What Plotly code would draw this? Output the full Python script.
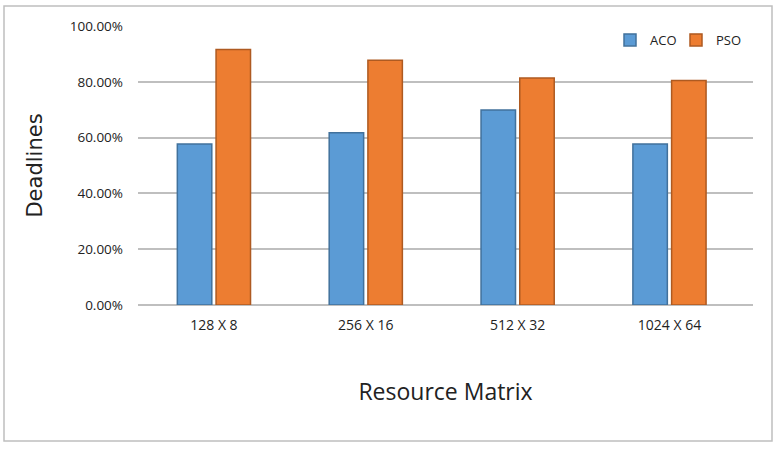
import plotly.graph_objects as go

categories = ["128 X 8", "256 X 16", "512 X 32", "1024 X 64"]
aco = [57.7, 61.7, 69.9, 57.7]
pso = [91.6, 87.7, 81.4, 80.5]
y_ticks = [0, 20, 40, 60, 80, 100]
y_tick_labels = ["0.00%", "20.00%", "40.00%", "60.00%", "80.00%", "100.00%"]

W, H = 775, 450
ml, mr, mt, mb = 138, 22, 26, 145

fig = go.Figure()
fig.add_trace(go.Bar(name="ACO", x=categories, y=aco,
                     marker=dict(color="#5B9BD5", line=dict(color="#41719C", width=1.5))))
fig.add_trace(go.Bar(name="PSO", x=categories, y=pso,
                     marker=dict(color="#ED7D31", line=dict(color="#AE5A21", width=1.5))))

pw = W - ml - mr
ph = H - mt - mb
fig.add_shape(type="rect", xref="paper", yref="paper",
              x0=(4 - ml) / pw, x1=(772 - ml) / pw,
              y0=(H - mb - 441) / ph, y1=(H - mb - 6) / ph,
              line=dict(color="#BFBFBF", width=1.5), fillcolor="rgba(0,0,0,0)", layer="below")

fig.update_layout(
    width=W, height=H,
    margin=dict(l=ml, r=mr, t=mt, b=mb, autoexpand=False),
    paper_bgcolor="white", plot_bgcolor="white",
    barmode="group", bargap=0.49, bargroupgap=0.11,
    font=dict(family="Open Sans", color="#222222"),
    showlegend=True,
    legend=dict(orientation="h", x=(610 - ml) / pw, xanchor="left", y=0.95, yanchor="middle",
                font=dict(size=13, family="Open Sans", color="#222222"),
                entrywidth=21, entrywidthmode="pixels",
                traceorder="normal", bgcolor="rgba(0,0,0,0)"),
    xaxis=dict(range=[-0.5, 3.55], showline=False, ticks="", ticklabelstandoff=10,
               tickfont=dict(size=14, family="Open Sans"),
               title=dict(text="Resource Matrix", font=dict(size=23, family="Open Sans", color="#222222"), standoff=50)),
    yaxis=dict(range=[0, 100], tickvals=y_ticks, ticktext=y_tick_labels,
               showgrid=True, gridcolor="#BFBFBF", gridwidth=1.5,
               zeroline=True, zerolinecolor="#BFBFBF", zerolinewidth=1.5,
               showline=False, ticks="", ticklabelstandoff=14,
               tickfont=dict(size=13.5, family="Open Sans"),
               title=dict(text="Deadlines", font=dict(size=21, family="DejaVu Sans", color="#222222"), standoff=21)),
)

fig.write_html("out.html")
